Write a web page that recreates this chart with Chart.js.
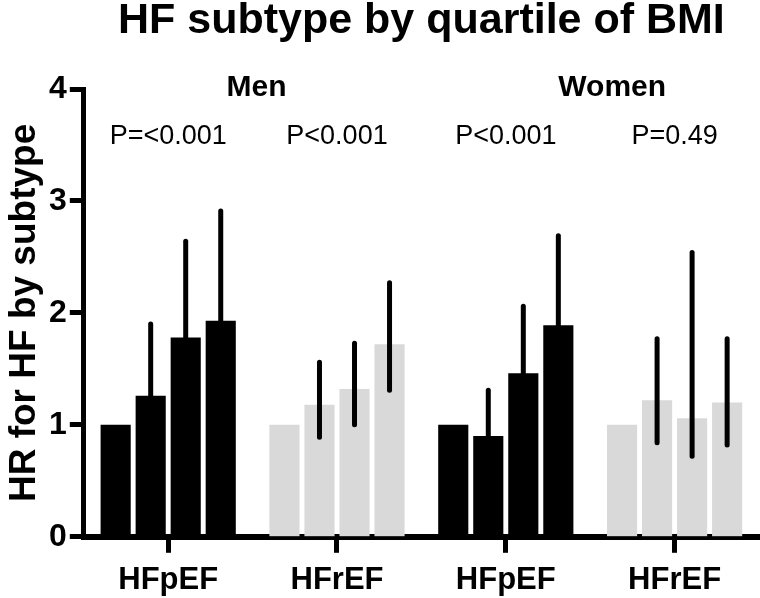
<!DOCTYPE html>
<html>
<head>
<meta charset="utf-8">
<script src="https://cdn.jsdelivr.net/npm/chart.js@4.4.0/dist/chart.umd.min.js"></script>
<style>
  html, body { margin: 0; padding: 0; background: #fff; }
  #wrap { width: 760px; height: 598px; }
</style>
</head>
<body>
<div id="wrap"><canvas id="hfChart"></canvas></div>
<script>
// groups along the x axis
var groups = ['HFpEF', 'HFrEF', 'HFpEF', 'HFrEF'];
var quartiles = ['Q1', 'Q2', 'Q3', 'Q4'];

// HR per quartile of BMI, one value per group
var q1 = [1.00, 1.00, 1.00, 1.00];
var q2 = [1.26, 1.18, 0.90, 1.22];
var q3 = [1.78, 1.32, 1.46, 1.06];
var q4 = [1.93, 1.72, 1.89, 1.20];

// upper / lower 95% CI (null = none drawn / hidden behind black bar)
var q1Hi = [null, null, null, null];
var q2Hi = [1.90, 1.56, 1.31, 1.77];
var q3Hi = [2.64, 1.73, 2.06, 2.54];
var q4Hi = [2.91, 2.27, 2.69, 1.77];
var q1Lo = [null, null, null, null];
var q2Lo = [null, 0.89, null, 0.84];
var q3Lo = [null, 1.00, null, 0.72];
var q4Lo = [null, 1.31, null, 0.82];

var yTicks = [0, 1, 2, 3, 4];
var sexLabels = ['Men', 'Women'];
var pValues = ['P=<0.001', 'P<0.001', 'P<0.001', 'P=0.49'];

var barColors = ['#000000', '#d9d9d9', '#000000', '#d9d9d9'];
var hiAll = [q1Hi, q2Hi, q3Hi, q4Hi];
var loAll = [q1Lo, q2Lo, q3Lo, q4Lo];

// error bars: plain thick vertical lines
var errorBars = {
    id: 'errorBars',
    afterDatasetsDraw: function (chart) {
        var ctx = chart.ctx;
        var y = chart.scales.y;
        ctx.save();
        ctx.strokeStyle = '#000';
        ctx.lineWidth = 5;
        ctx.lineCap = 'round';
        chart.data.datasets.forEach(function (ds, d) {
            var meta = chart.getDatasetMeta(d);
            meta.data.forEach(function (bar, i) {
                var hi = hiAll[d][i];
                if (hi == null) return;
                var lo = loAll[d][i] != null ? loAll[d][i] : ds.data[i];
                ctx.beginPath();
                ctx.moveTo(bar.x, y.getPixelForValue(lo));
                ctx.lineTo(bar.x, y.getPixelForValue(hi));
                ctx.stroke();
            });
        });
        ctx.restore();
    }
};

// Men / Women and P-value texts
var annotations = {
    id: 'annotations',
    afterDraw: function (chart) {
        var ctx = chart.ctx;
        var x = chart.scales.x;
        var c = [0, 1, 2, 3].map(function (i) { return x.getPixelForValue(i); });
        ctx.save();
        ctx.fillStyle = '#000';
        ctx.textAlign = 'center';
        ctx.textBaseline = 'alphabetic';
        ctx.font = 'bold 30px "Liberation Sans", Arial, sans-serif';
        ctx.fillText(sexLabels[0], (c[0] + c[1]) / 2 + 4, 96);
        ctx.fillText(sexLabels[1], (c[2] + c[3]) / 2 + 22, 96);
        ctx.font = '27px "Liberation Sans", Arial, sans-serif';
        pValues.forEach(function (p, i) {
            ctx.fillText(p, c[i], 144);
        });
        ctx.restore();
    }
};

var ctx = document.getElementById('hfChart').getContext('2d');
var chart = new Chart(ctx, {
    type: 'bar',
    data: {
        labels: groups,
        datasets: [
            { label: quartiles[0], data: q1, backgroundColor: barColors },
            { label: quartiles[1], data: q2, backgroundColor: barColors },
            { label: quartiles[2], data: q3, backgroundColor: barColors },
            { label: quartiles[3], data: q4, backgroundColor: barColors }
        ]
    },
    options: {
        responsive: true,
        maintainAspectRatio: false,
        animation: false,
        categoryPercentage: 0.83,
        barPercentage: 0.86,
        layout: { padding: { left: 0, right: 1, top: 0, bottom: 0 } },
        plugins: {
            legend: { display: false },
            tooltip: { enabled: false },
            title: {
                display: true,
                fullSize: false,
                text: 'HF subtype by quartile of BMI',
                color: '#000',
                font: { family: '"Liberation Sans", Arial, sans-serif', size: 43, weight: 'bold', lineHeight: 1.0 },
                padding: { top: 0, bottom: 46 }
            }
        },
        scales: {
            x: {
                offset: true,
                afterFit: function (scale) { scale.height -= 10; },
                grid: {
                    display: true,
                    drawOnChartArea: false,
                    offset: false,
                    tickLength: 16,
                    tickWidth: 5,
                    tickColor: '#000'
                },
                border: { display: true, color: '#000', width: 6 },
                ticks: {
                    color: '#000',
                    padding: 9,
                    font: { family: '"Liberation Sans", Arial, sans-serif', size: 31, weight: 'bold' }
                }
            },
            y: {
                min: 0,
                max: 4,
                afterBuildTicks: function (scale) {
                    scale.ticks = yTicks.map(function (v) { return { value: v }; });
                },
                grid: {
                    display: true,
                    drawOnChartArea: false,
                    tickLength: 14,
                    tickWidth: 5,
                    tickColor: '#000'
                },
                border: { display: true, color: '#000', width: 5 },
                ticks: {
                    color: '#000',
                    padding: 3,
                    font: { family: '"Liberation Sans", Arial, sans-serif', size: 32, weight: 'bold' }
                },
                title: {
                    display: true,
                    text: 'HR for HF by subtype',
                    color: '#000',
                    padding: { top: 6, bottom: 3 },
                    font: { family: '"Liberation Sans", Arial, sans-serif', size: 37, weight: 'bold', lineHeight: 1.0 }
                }
            }
        }
    },
    plugins: [errorBars, annotations]
});
</script>
</body>
</html>
